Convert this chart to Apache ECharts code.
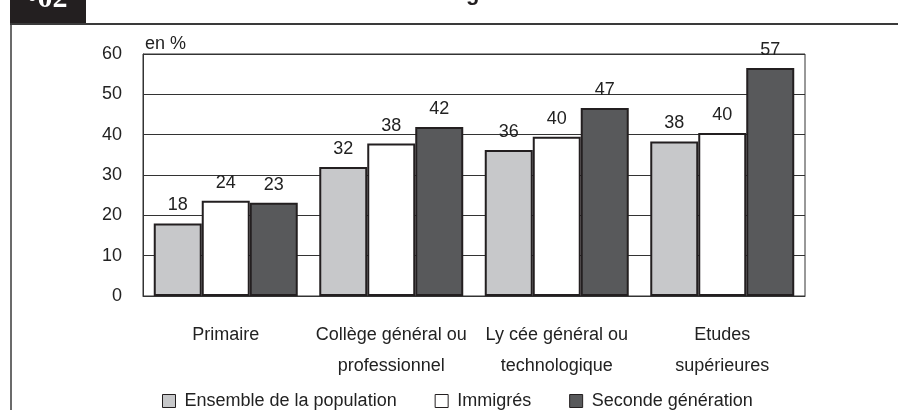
<!DOCTYPE html>
<html>
<head>
<meta charset="utf-8">
<script src="https://cdn.jsdelivr.net/npm/echarts@6/dist/echarts.min.js"></script>
<style>
html,body{margin:0;padding:0;background:#fff;}
#c{width:898px;height:410px;}
</style>
</head>
<body>
<div id="c"></div>
<script>
var categories = ['Primaire', 'Collège général ou\nprofessionnel', 'Ly cée général ou\ntechnologique', 'Etudes\nsupérieures'];
var ensemble = [18, 32, 36.2, 38.3];
var immigres = [23.6, 37.8, 39.5, 40.4];
var seconde = [23.1, 41.9, 46.6, 56.5];
var seriesNames = ['Ensemble de la population', 'Immigrés', 'Seconde génération'];
var yTicks = [0, 10, 20, 30, 40, 50, 60];

var FONT = 'Liberation Sans, Arial, sans-serif';
var chart = echarts.init(document.getElementById('c'), null, {renderer: 'canvas'});

function barSeries(name, data, color) {
  return {
    name: name,
    type: 'bar',
    data: data,
    barGap: '0%',
    barCategoryGap: '13%',
    itemStyle: {color: color, borderColor: '#231f20', borderWidth: 2},
    label: {
      show: true,
      position: 'top',
      distance: 9,
      color: '#222',
      fontSize: 18,
      fontFamily: FONT,
      formatter: function (p) { return Math.round(p.value); }
    }
  };
}

chart.setOption({
  animation: false,
  backgroundColor: '#fff',
  grid: {left: 143, right: 93, top: 54, bottom: 114, show: true, borderColor: '#333', borderWidth: 1},
  legend: {
    data: seriesNames,
    left: 157,
    top: 387,
    icon: 'rect',
    itemWidth: 13,
    itemHeight: 13,
    itemGap: 38,
    itemStyle: {borderColor: '#231f20', borderWidth: 1},
    textStyle: {fontSize: 18, fontFamily: FONT, color: '#222', padding: [0, 0, 0, 4]}
  },
  xAxis: {
    type: 'category',
    data: categories,
    axisLine: {show: true, lineStyle: {color: '#333', width: 1}},
    axisTick: {show: false},
    axisLabel: {fontSize: 18, fontFamily: FONT, color: '#222', margin: 24, lineHeight: 31, interval: 0}
  },
  yAxis: {
    type: 'value',
    min: yTicks[0],
    max: yTicks[yTicks.length - 1],
    interval: 10,
    axisLine: {show: true, lineStyle: {color: '#333', width: 1}},
    axisTick: {show: false},
    splitLine: {lineStyle: {color: '#333', width: 1}},
    axisLabel: {fontSize: 18, fontFamily: FONT, color: '#222', margin: 21}
  },
  series: [
    barSeries(seriesNames[0], ensemble, '#c7c8ca'),
    barSeries(seriesNames[1], immigres, '#ffffff'),
    barSeries(seriesNames[2], seconde, '#58595b')
  ],
  graphic: [
    {type: 'rect', shape: {x: 10, y: 0, width: 76, height: 24}, style: {fill: '#231f20'}},
    {type: 'text', x: 27, y: 14, style: {text: '•02', fill: '#fff', font: 'bold 30px "Liberation Serif", serif', verticalAlign: 'bottom'}},
    {type: 'line', shape: {x1: 10, y1: 24, x2: 898, y2: 24}, style: {stroke: '#3a3a3a', lineWidth: 2}},
    {type: 'line', shape: {x1: 11, y1: 24, x2: 11, y2: 410}, style: {stroke: '#3a3a3a', lineWidth: 1.5}},
    {type: 'text', x: 466, y: 5, style: {text: 'g', fill: '#231f20', font: 'bold 22px "Liberation Sans", sans-serif', verticalAlign: 'bottom'}},
    {type: 'text', x: 145, y: 44, style: {text: 'en %', fill: '#222', font: '18px "Liberation Sans", sans-serif', verticalAlign: 'middle'}}
  ]
});
</script>
</body>
</html>
